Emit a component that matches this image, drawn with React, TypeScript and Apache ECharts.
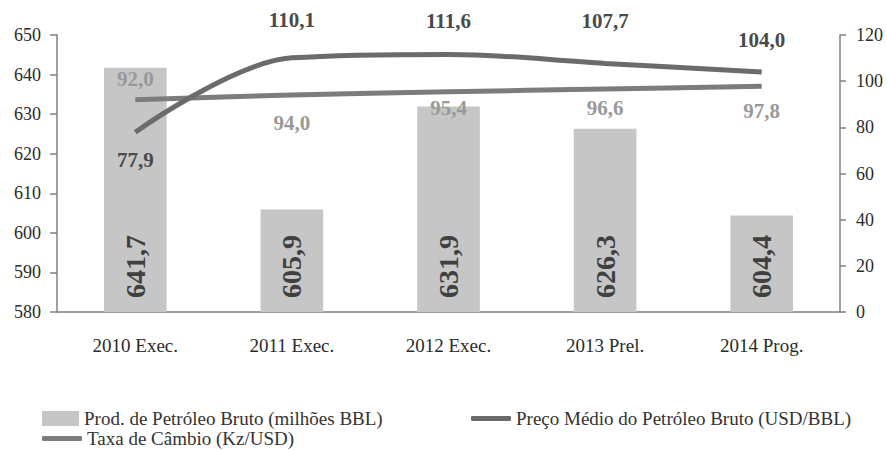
import React, { useEffect, useRef } from "react";
import * as echarts from "echarts";

const categories = ["2010 Exec.", "2011 Exec.", "2012 Exec.", "2013 Prel.", "2014 Prog."];
const production = [641.7, 605.9, 631.9, 626.3, 604.4];
const oilPrice = [77.9, 110.1, 111.6, 107.7, 104.0];
const exchangeRate = [92.0, 94.0, 95.4, 96.6, 97.8];
const priceLabelPos = ["bottom", "top", "top", "top", "top"];
const priceLabelDist = [17, 27, 23, 32, 21];
const rateLabelPos = ["top", "bottom", "bottom", "bottom", "bottom"];
const rateLabelDist = [10, 17, 5, 8, 14];

const SERIES_BAR = "Prod. de Petróleo Bruto (milhões BBL)";
const SERIES_PRICE = "Preço Médio do Petróleo Bruto (USD/BBL)";
const SERIES_RATE = "Taxa de Câmbio (Kz/USD)";

const FONT = "'Liberation Serif', 'DejaVu Serif', serif";
const fmt = (v: number) => v.toFixed(1).replace(".", ",");

export default function App() {
  const ref = useRef<HTMLDivElement>(null);
  useEffect(() => {
    if (!ref.current) return;
    const chart = echarts.init(ref.current, null, { renderer: "svg" });
    const axisColor = "#808080";
    chart.setOption({
      animation: false,
      textStyle: { fontFamily: FONT },
      grid: { left: 57, right: 47, top: 35, bottom: 138 },
      legend: [
        {
          data: [SERIES_BAR],
          left: 37,
          top: 404,
          itemWidth: 37,
          itemHeight: 15,
          itemGap: 2,
          textStyle: { fontFamily: FONT, fontSize: 19, color: "#333" },
          icon: "rect",
        },
        {
          data: [SERIES_PRICE],
          left: 466,
          top: 404,
          itemWidth: 40,
          itemHeight: 5,
          textStyle: { fontFamily: FONT, fontSize: 19, color: "#333" },
          icon: "roundRect",
        },
        {
          data: [SERIES_RATE],
          left: 37,
          top: 424,
          itemWidth: 40,
          itemHeight: 5,
          textStyle: { fontFamily: FONT, fontSize: 19, color: "#333" },
          icon: "roundRect",
        },
      ],
      xAxis: {
        type: "category",
        data: categories,
        axisLine: { lineStyle: { color: axisColor, width: 1.5 } },
        axisTick: { length: 10, lineStyle: { color: axisColor, width: 1.5 } },
        axisLabel: { fontFamily: FONT, fontSize: 19, color: "#2b2b2b", margin: 24 },
      },
      yAxis: [
        {
          type: "value",
          min: 580,
          max: 650,
          interval: 10,
          splitLine: { show: false },
          axisLine: { show: true, lineStyle: { color: axisColor, width: 1.5 } },
          axisTick: { show: true, length: 7, lineStyle: { color: axisColor, width: 1.5 } },
          axisLabel: { fontFamily: FONT, fontSize: 18, color: "#2b2b2b", margin: 16 },
        },
        {
          type: "value",
          min: 0,
          max: 120,
          interval: 20,
          position: "right",
          splitLine: { show: false },
          axisLine: { show: true, lineStyle: { color: axisColor, width: 1.5 } },
          axisTick: { show: true, length: 6, lineStyle: { color: axisColor, width: 1.5 } },
          axisLabel: { fontFamily: FONT, fontSize: 18, color: "#2b2b2b", margin: 16 },
        },
      ],
      series: [
        {
          name: SERIES_BAR,
          type: "bar",
          data: production,
          barWidth: "40%",
          itemStyle: { color: "#c6c6c6" },
          label: {
            show: true,
            position: "insideBottom",
            rotate: 90,
            align: "left",
            verticalAlign: "middle",
            distance: 14,
            fontFamily: FONT,
            fontSize: 28,
            fontWeight: "bold",
            color: "#404040",
            formatter: (p: any) => fmt(p.value),
          },
        },
        {
          name: SERIES_PRICE,
          type: "line",
          yAxisIndex: 1,
          smooth: 0.35,
          symbol: "circle",
          symbolSize: 0.5,
          showSymbol: true,
          lineStyle: { color: "#6b6b6b", width: 5 },
          itemStyle: { color: "#6b6b6b" },
          z: 4,
          data: oilPrice.map((v, i) => ({
            value: v,
            label: {
              show: true,
              position: priceLabelPos[i],
              distance: priceLabelDist[i],
              fontFamily: FONT,
              fontSize: 21,
              fontWeight: "bold",
              color: "#4a4a4a",
              formatter: (p: any) => fmt(p.value),
            },
          })),
        },
        {
          name: SERIES_RATE,
          type: "line",
          yAxisIndex: 1,
          smooth: 0.35,
          symbol: "circle",
          symbolSize: 0.5,
          showSymbol: true,
          lineStyle: { color: "#7c7c7c", width: 5 },
          itemStyle: { color: "#7c7c7c" },
          z: 3,
          data: exchangeRate.map((v, i) => ({
            value: v,
            label: {
              show: true,
              position: rateLabelPos[i],
              distance: rateLabelDist[i],
              fontFamily: FONT,
              fontSize: 21,
              fontWeight: "bold",
              color: "#999999",
              formatter: (p: any) => fmt(p.value),
            },
          })),
        },
      ],
    });
    return () => chart.dispose();
  }, []);
  return <div ref={ref} style={{ width: 887, height: 450, position: "absolute", left: 0, top: 0 }} />;
}
